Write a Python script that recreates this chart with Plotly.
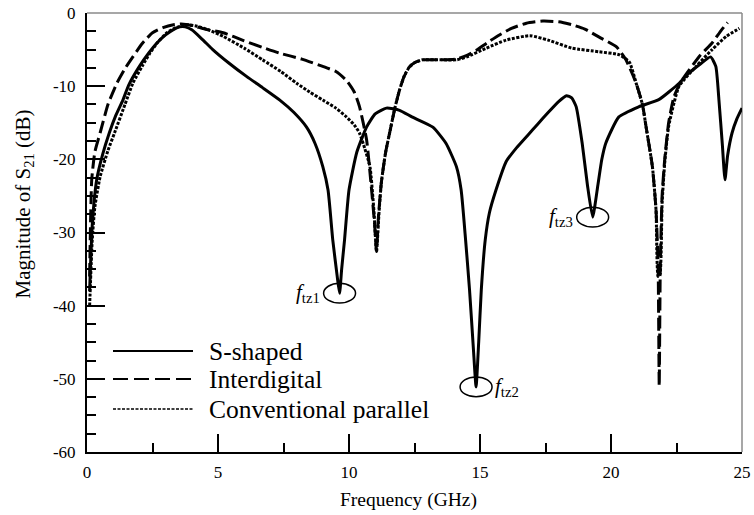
import plotly.graph_objects as go

# ---------------- data ----------------
s_f = [0.1, 0.2, 0.37, 0.6, 0.85, 1.1, 1.37, 1.6, 2.0, 2.35, 2.67, 3.0, 3.28, 3.54, 3.75,
       4.0, 4.4, 4.8, 5.4, 6.1, 6.7, 7.36, 7.9, 8.38, 8.7, 9.0, 9.2, 9.38, 9.55, 9.64,
       9.72, 9.83, 10.0, 10.3, 10.67, 11.0, 11.43, 11.93, 12.4, 13.2, 13.7, 14.1, 14.28,
       14.45, 14.6, 14.75, 14.85, 14.95, 15.05, 15.2, 15.36, 15.61, 16.0, 16.4, 16.8,
       17.2, 17.6, 18.0, 18.3, 18.5, 18.67, 18.9, 19.1, 19.3, 19.5, 19.65, 19.8, 20.3,
       21.07, 21.84, 22.6, 22.98, 23.4, 23.8, 24.0, 24.12, 24.25, 24.35, 24.45, 24.62,
       24.8, 25.0]
s_db = [-38, -29, -22.8, -19.3, -16.4, -14.0, -11.9, -9.8, -7.3, -5.5, -4.1, -3.0, -2.3, -1.9, -1.9,
        -2.3, -3.6, -5.0, -6.8, -8.7, -10.2, -11.9, -13.6, -15.6, -17.8, -21, -24.2, -31, -36, -38.3,
        -35, -31, -24.2, -19, -15.6, -13.8, -13.0, -13.3, -14.2, -15.6, -17.8, -21, -24.2,
        -31, -37.8, -46, -51.1, -45, -37.8, -31, -27.3, -24.2, -20.3, -18.4, -16.8,
        -15.2, -13.6, -12.1, -11.3, -11.6, -12.8, -17.8, -23.5, -27.9, -23.5, -20, -17.8, -14.2,
        -12.8, -11.8, -9.6, -8.2, -7.0, -6.0, -7.3, -11.9, -18.0, -22.8, -19.5, -16.4,
        -14.5, -13.0]

i_f = [0.1, 0.18, 0.3, 0.5, 0.8, 1.14, 1.45, 1.75, 2.1, 2.5, 2.9, 3.3, 3.6, 4.0, 4.5,
       5.2, 6.0, 6.7, 7.36, 8.2, 9.0, 9.5, 9.9, 10.2, 10.4, 10.67, 10.85, 10.98, 11.05,
       11.12, 11.24, 11.4, 11.55, 11.75, 11.93, 12.1, 12.3, 12.5, 12.8, 13.5, 14.1, 14.5,
       14.86, 15.3, 15.74, 16.2, 16.77, 17.4, 18.0, 18.5, 19.0, 19.55, 20.2, 20.57, 20.96,
       21.2, 21.34, 21.58, 21.72, 21.8, 21.84, 21.88, 21.95, 22.05, 22.2, 22.4, 22.65,
       22.98, 23.4, 23.86, 24.2, 24.45]
i_db = [-36, -22.8, -19.0, -16.4, -12.5, -9.6, -7.6, -6.0, -4.2, -2.7, -2.0, -1.6, -1.5, -1.7, -2.2,
        -2.7, -3.8, -4.7, -5.5, -6.3, -7.3, -8.0, -9.2, -10.8, -12.8, -17.3, -23.7, -29, -32.6,
        -28, -23.0, -19, -16.4, -13, -10.5, -8.7, -7.4, -6.8, -6.4, -6.4, -6.3, -5.8,
        -5.1, -4.0, -3.0, -2.1, -1.4, -1.1, -1.2, -1.6, -2.2, -3.3, -4.6, -6.4, -9.6,
        -12.5, -15.6, -21, -27, -35, -51, -35, -25, -20, -15, -11.5, -9.5,
        -7.8, -5.8, -4.1, -2.4, -1.3]

c_f = [0.1, 0.2, 0.3, 0.5, 0.8, 1.05, 1.45, 1.75, 2.1, 2.4, 2.7, 3.05, 3.4, 3.8, 4.2,
       4.7, 5.2, 6.0, 6.7, 7.4, 8.0, 8.5, 9.0, 9.5, 9.9, 10.2, 10.4, 10.6, 10.8, 10.95,
       11.05, 11.15, 11.24, 11.4, 11.55, 11.75, 11.93, 12.1, 12.3, 12.5, 12.8, 13.5, 14.1,
       14.5, 15.24, 16.0, 16.9, 17.6, 18.5, 19.55, 20.3, 20.7, 20.96, 21.2, 21.34, 21.58,
       21.72, 21.8, 21.86, 21.95, 22.05, 22.2, 22.6, 23.25, 23.86, 24.4, 24.9]
c_db = [-40, -31, -26.5, -22.4, -18.8, -16.4, -12.5, -9.6, -7.3, -5.5, -4.0, -2.7, -2.0, -1.6, -1.8,
        -2.4, -3.2, -4.8, -6.4, -8.0, -9.6, -10.8, -11.9, -13.0, -14.2, -15.3, -16.4, -18.5, -21, -27,
        -32.6, -27, -23.0, -19, -16.4, -13, -10.5, -8.7, -7.4, -6.8, -6.4, -6.4, -6.4,
        -6.0, -4.8, -3.7, -3.1, -3.7, -4.8, -5.3, -5.7, -6.7, -9.6, -12.5, -15.6, -21,
        -27, -36, -36, -26, -20.5, -15.5, -10, -7.3, -5.0, -3.2, -2.1]

series_names = ["S-shaped", "Interdigital", "Conventional parallel"]
x_tickvals = [0, 5, 10, 15, 20, 25]
x_ticktext = ["0", "5", "10", "15", "20", "25"]
y_tickvals = [0, -10, -20, -30, -40, -50, -60]
y_ticktext = ["0", "-10", "-20", "-30", "-40", "-50", "-60"]
x_title = "Frequency (GHz)"
y_title = "Magnitude of S<sub>21</sub> (dB)"
tz_labels = ["tz1", "tz2", "tz3"]
tz_windows = [(9.0, 10.5), (14.0, 15.5), (18.8, 19.8)]

# ---------------- figure ----------------
W, H = 754, 515
L, R, T, B = 87, 12, 13, 63
PW, PH = W - L - R, H - T - B
FONT = "Liberation Serif, Times New Roman, serif"


def px2paper(px, py):
    return (px - L) / PW, (H - B - py) / PH


styles = [dict(color="black", width=3, dash="solid"),
          dict(color="black", width=3, dash="13px,5px"),
          dict(color="black", width=3, dash="3px,1.5px")]
legend_styles = [dict(color="black", width=2, dash="solid"),
                 dict(color="black", width=2, dash="15px,6px"),
                 dict(color="black", width=1.6, dash="3px,1.5px")]

fig = go.Figure()
for name, fx, dy, st in zip(series_names, [s_f, i_f, c_f], [s_db, i_db, c_db], styles):
    fig.add_trace(go.Scatter(x=fx, y=dy, mode="lines", name=name,
                             line=dict(shape="spline", smoothing=0.5, **st),
                             showlegend=False))

shapes = []
annotations = []

# custom legend (long line samples as in the reference)
legend_y = [351, 379, 409]
for name, st, ly in zip(series_names, legend_styles, legend_y):
    x0, y0 = px2paper(113, ly)
    x1, _ = px2paper(193, ly)
    shapes.append(dict(type="line", xref="paper", yref="paper", x0=x0, x1=x1, y0=y0, y1=y0,
                       line=st))
    tx, _ = px2paper(207, ly)
    annotations.append(dict(xref="paper", yref="paper", x=tx, y=y0, text=name,
                            showarrow=False, xanchor="left", yanchor="middle",
                            font=dict(family=FONT, size=25.5, color="black")))

# transmission-zero ellipses + labels, located at the minima of the S-shaped curve
ex, ey = 0.61, 1.35
label_side = ["left", "right", "left"]
for lab, (a, b), side in zip(tz_labels, tz_windows, label_side):
    pts = [(f, d) for f, d in zip(s_f, s_db) if a <= f <= b]
    fmin, dmin = min(pts, key=lambda p: p[1])
    shapes.append(dict(type="circle", xref="x", yref="y", x0=fmin - ex, x1=fmin + ex,
                       y0=dmin - ey, y1=dmin + ey, line=dict(color="black", width=1.5)))
    xa = fmin - ex - 0.05 if side == "left" else fmin + ex + 0.05
    annotations.append(dict(xref="x", yref="y", x=xa, y=dmin,
                            text=f"<i>f</i><sub>{lab}</sub>", showarrow=False,
                            xanchor="right" if side == "left" else "left", yanchor="middle",
                            font=dict(family=FONT, size=21, color="black")))

# axis titles placed as in the reference
xtx, xty = px2paper(338, 500)
annotations.append(dict(xref="paper", yref="paper", x=xtx, y=xty, text=x_title,
                        showarrow=False, xanchor="left", yanchor="middle",
                        font=dict(family=FONT, size=19.5, color="black")))
ytx, yty = px2paper(23, 108)
annotations.append(dict(xref="paper", yref="paper", x=ytx, y=yty, text=y_title,
                        showarrow=False, xanchor="center", yanchor="top", textangle=-90,
                        font=dict(family=FONT, size=21, color="black")))

# gray top / right frame
shapes.append(dict(type="line", xref="paper", yref="paper", x0=0, x1=1, y0=1, y1=1,
                   line=dict(color="#8a8a8a", width=1.5), layer="below"))
shapes.append(dict(type="line", xref="paper", yref="paper", x0=1, x1=1, y0=0, y1=1,
                   line=dict(color="#8a8a8a", width=1.5), layer="below"))

axis_common = dict(showgrid=False, zeroline=False, showline=True, linecolor="black",
                   linewidth=2, ticks="inside", ticklen=18, tickwidth=1.5, tickcolor="black",
                   tickfont=dict(family=FONT, size=17, color="black"), mirror=False)

fig.update_layout(
    width=W, height=H,
    margin=dict(l=L, r=R, t=T, b=B, autoexpand=False),
    paper_bgcolor="white", plot_bgcolor="white",
    showlegend=False,
    xaxis=dict(range=[0, 25], tickmode="array", tickvals=x_tickvals, ticktext=x_ticktext,
               minor=dict(ticks="inside", ticklen=9, dtick=2.5, tick0=0, tickwidth=1.5,
                          tickcolor="black", showgrid=False),
               ticklabelstandoff=4,
               **axis_common),
    yaxis=dict(range=[-60, 0], tickmode="array", tickvals=y_tickvals, ticktext=y_ticktext,
               minor=dict(ticks="inside", ticklen=9, dtick=2.5, tick0=0, tickwidth=1.5,
                          tickcolor="black", showgrid=False),
               ticklabelstandoff=6,
               **axis_common),
    shapes=shapes,
    annotations=annotations,
)

fig.write_html("out.html")
